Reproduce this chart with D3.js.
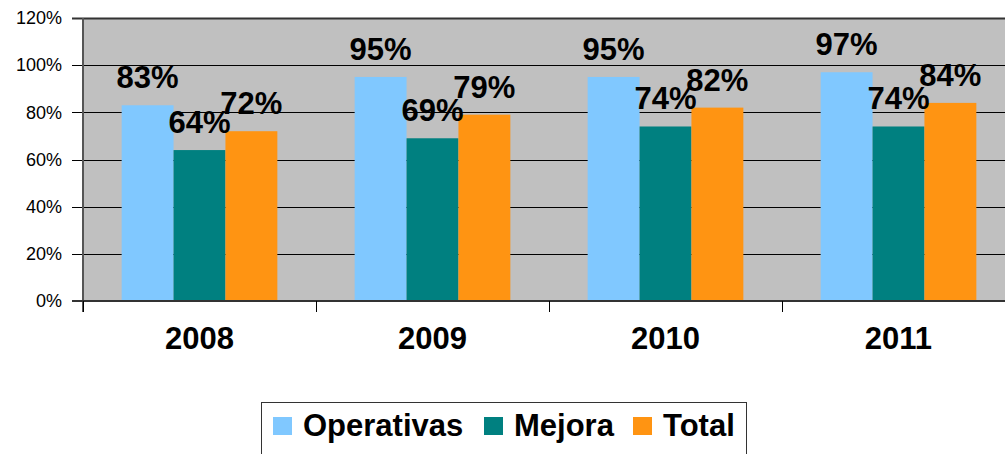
<!DOCTYPE html>
<meta charset="utf-8">
<style>
body{ margin:0; background:#fff; }
text{ font-family:"Liberation Sans", Arial, sans-serif; }
.ytick text{ font-size:18px; }
.vlabel{ font-size:31px; font-weight:bold; text-anchor:middle; }
.xlabel{ font-size:31px; font-weight:bold; text-anchor:middle; }
.legend text{ font-size:31px; font-weight:bold; }
</style>
<body>
<script src="https://d3js.org/d3.v7.min.js"></script>
<script>

var years = ['2008', '2009', '2010', '2011'];
var series = ['Operativas', 'Mejora', 'Total'];
var operativas = [0.83, 0.95, 0.95, 0.97];
var mejora = [0.64, 0.69, 0.74, 0.74];
var total = [0.72, 0.79, 0.82, 0.84];
var yTicks = [0, 0.2, 0.4, 0.6, 0.8, 1.0, 1.2];

var color = {Operativas:"#80C8FF", Mejora:"#008080", Total:"#FF9412"};
var values = {Operativas:operativas, Mejora:mejora, Total:total};

var W = 1005, H = 454;
var plotL = 83, plotT = 18, plotB = 301, plotR = 1015;

var svg = d3.select("body").append("svg").attr("width", W).attr("height", H);

var x0 = d3.scaleBand().domain(years).range([plotL, plotR]);
var x1 = d3.scaleBand().domain(series).range([0, x0.bandwidth()]).paddingOuter(0.745);
var y = d3.scaleLinear().domain([0, 1.2]).range([plotB, plotT]);

// plot background
svg.append("rect").attr("x", plotL).attr("y", plotT)
	.attr("width", W - plotL).attr("height", plotB - plotT)
	.attr("fill", "#C0C0C0");

// gridlines + ticks
var yt = svg.selectAll(".ytick").data(yTicks).enter().append("g").attr("class", "ytick");
yt.append("line")
	.attr("x1", plotL - 11).attr("x2", W)
	.attr("y1", d => Math.round(y(d)) + 0.5).attr("y2", d => Math.round(y(d)) + 0.5)
	.attr("stroke", d => d == 1.2 ? "#333" : "#000").attr("stroke-width", d => d == 1.2 ? 2 : 1);
yt.append("text")
	.attr("x", 62).attr("y", d => y(d))
	.attr("dy", "0.35em").attr("text-anchor", "end")
	.text(d => d3.format(".0%")(d));

// bars
years.forEach(function(yr, i){
	var g = svg.append("g").attr("transform", "translate(" + x0(yr) + ",0)");
	series.forEach(function(s){
		var v = values[s][i];
		g.append("rect")
			.attr("x", x1(s)).attr("width", x1.bandwidth())
			.attr("y", y(v)).attr("height", plotB - y(v))
			.attr("fill", color[s]);
	});
	series.forEach(function(s){
		var v = values[s][i];
		g.append("text").attr("class", "vlabel")
			.attr("x", x1(s) + x1.bandwidth() / 2)
			.attr("y", y(v) - 17)
			.text(d3.format(".0%")(v));
	});
});

// axes lines
svg.append("line").attr("x1", plotL).attr("x2", plotL).attr("y1", plotT).attr("y2", plotB + 11)
	.attr("stroke", "#555").attr("stroke-width", 2);
svg.append("line").attr("x1", plotL - 11).attr("x2", W).attr("y1", plotB).attr("y2", plotB)
	.attr("stroke", "#333").attr("stroke-width", 2);

// category ticks + labels
svg.selectAll(".xtick").data(years).enter().append("line")
	.attr("x1", d => Math.round(x0(d)) + 0.5).attr("x2", d => Math.round(x0(d)) + 0.5)
	.attr("y1", plotB).attr("y2", plotB + 11)
	.attr("stroke", "#000");
svg.selectAll(".xlabel").data(years).enter().append("text").attr("class", "xlabel")
	.attr("x", d => x0(d) + x0.bandwidth() / 2)
	.attr("y", 349)
	.text(d => d);

// legend
var lg = svg.append("g").attr("class", "legend");
lg.append("rect").attr("x", 261.5).attr("y", 402.5).attr("width", 485).attr("height", 70)
	.attr("fill", "#fff").attr("stroke", "#333").attr("stroke-width", 1);
var lx = [273, 484, 633];
series.forEach(function(s, i){
	lg.append("rect").attr("x", lx[i]).attr("y", 417).attr("width", 19).attr("height", 18)
		.attr("fill", color[s]);
	lg.append("text").attr("x", lx[i] + 30).attr("y", 436).text(s);
});

</script>
</body>
</html>
